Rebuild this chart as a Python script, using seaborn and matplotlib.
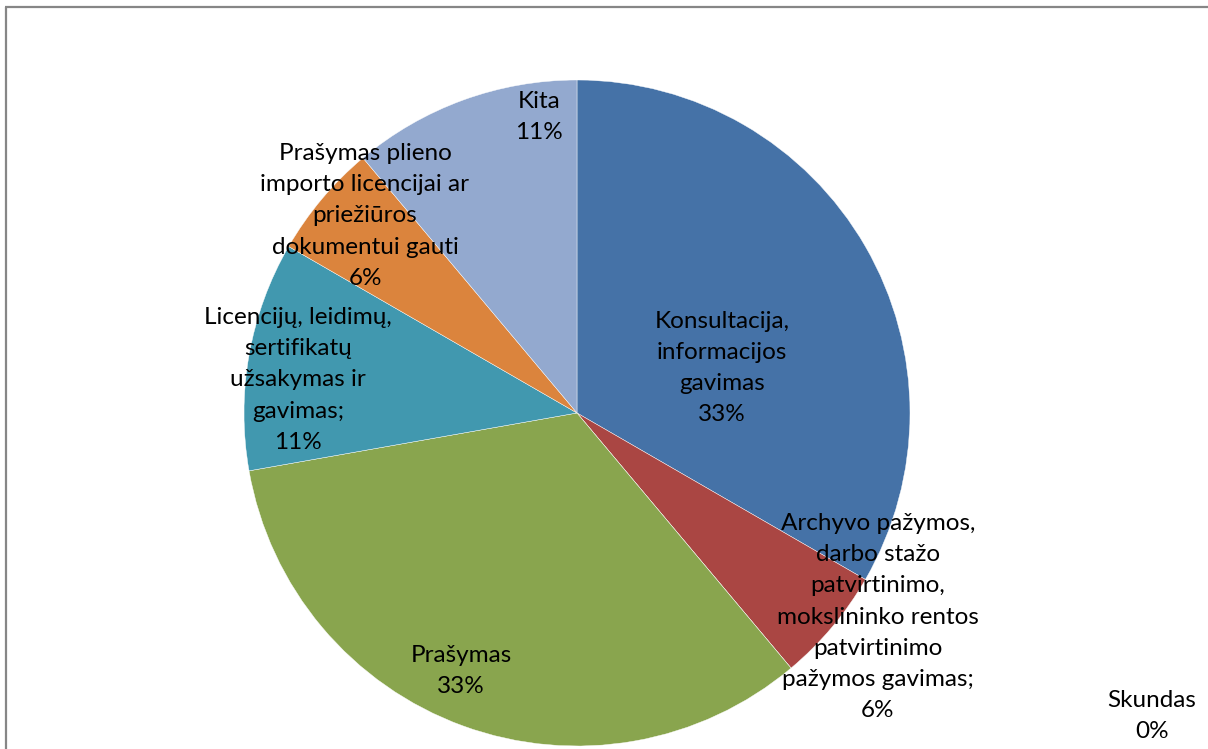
import matplotlib
matplotlib.use("Agg")
import matplotlib.pyplot as plt
import seaborn as sns

# duomenys (kreipiniu skaicius pagal tema)
categories = [
    "Konsultacija,\ninformacijos\ngavimas",
    "Archyvo pažymos,\ndarbo stažo\npatvirtinimo,\nmokslininko rentos\npatvirtinimo\npažymos gavimas;",
    "Skundas",
    "Prašymas",
    "Licencijų, leidimų,\nsertifikatų\nužsakymas ir\ngavimas;",
    "Prašymas plieno\nimporto licencijai ar\npriežiūros\ndokumentui gauti",
    "Kita",
]
counts = [6, 1, 0, 6, 2, 1, 2]
colors = ["#4572A7", "#AA4643", "#4572A7", "#89A54E", "#4198AF", "#DB843D", "#93A9CF"]

# label centres in pixels (x, y from top)
label_pos = [(722, 368), (878, 617), (1152, 716), (461, 671), (298, 380), (365, 216), (539, 117)]

W, H = 1208, 749


def main():
    sns.set_theme(style="white")
    plt.rcParams["font.family"] = ["Lato", "DejaVu Sans"]

    fig = plt.figure(figsize=(W / 100, H / 100), dpi=100)
    ax = fig.add_axes([0, 0, 1, 1])

    total = sum(counts)
    ax.pie(counts, colors=colors, startangle=90, counterclock=False,
           center=(577, H - 413), radius=333,
           wedgeprops=dict(edgecolor="white", linewidth=0.3))

    for name, c, (x, y) in zip(categories, counts, label_pos):
        pct = round(100 * c / total)
        ax.text(x, H - y, f"{name}\n{pct}%", ha="center", va="center",
                fontsize=17.5, color="black", linespacing=1.59)

    # ramelis
    ax.plot([5, W], [H - 7, H - 7], color="#868686", lw=1.6, solid_capstyle="butt")
    ax.plot([5.5, 5.5], [0, H - 7], color="#868686", lw=1.6, solid_capstyle="butt")

    ax.set_xlim(0, W)
    ax.set_ylim(0, H)
    ax.set_aspect("equal")
    ax.axis("off")
    fig.savefig("out.png", dpi=100, facecolor="white")


if __name__ == "__main__":
    main()
